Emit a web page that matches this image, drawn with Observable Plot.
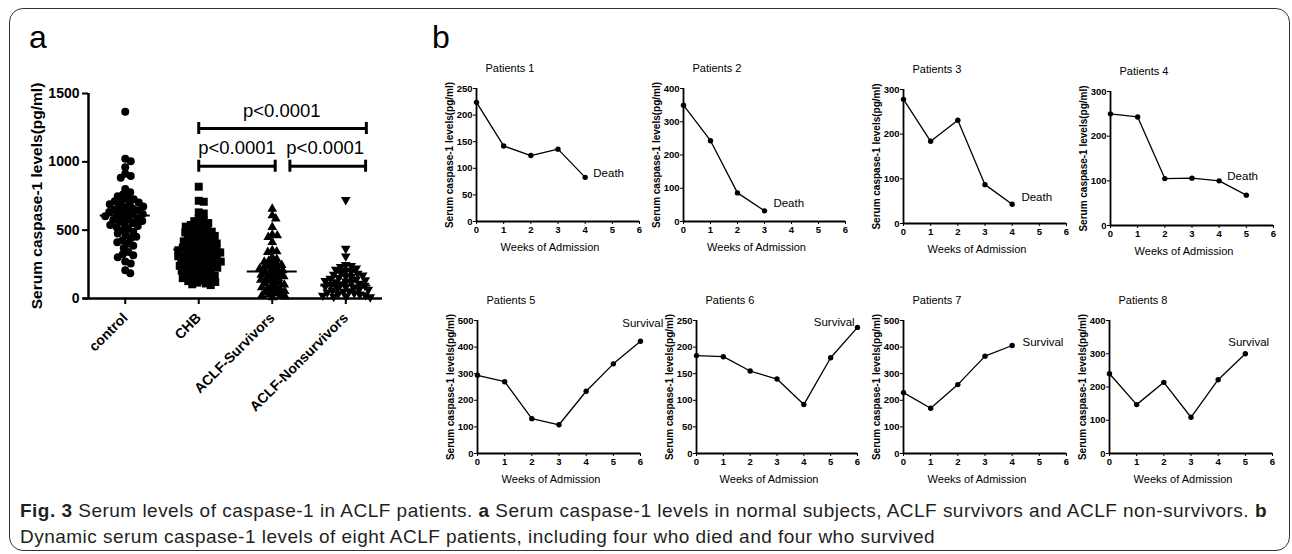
<!DOCTYPE html>
<html><head><meta charset="utf-8">
<script src="https://cdn.jsdelivr.net/npm/d3@7"></script>
<script src="https://cdn.jsdelivr.net/npm/@observablehq/plot@0.6"></script>
<style>
html,body{margin:0;padding:0;background:#fff;}
#root{position:relative;width:1292px;height:554px;overflow:hidden;font-family:"Liberation Sans",Arial,sans-serif;background:#fff;}
.frame{position:absolute;left:9px;top:8px;width:1281px;height:543px;border:1.5px solid #333;border-radius:14px;box-sizing:border-box;}
.plab{position:absolute;font-size:32px;line-height:32px;color:#000;font-family:"Liberation Sans",Arial,sans-serif;}
.cap{position:absolute;left:20px;top:498px;font-size:19px;line-height:26px;letter-spacing:0.48px;color:#231f20;white-space:nowrap;font-family:"Liberation Sans",Arial,sans-serif;}
.pl{position:absolute;}
#pa g[aria-label$="-axis tick"]{stroke-width:2px;}
</style></head><body><div id="root">
<div class="frame"></div>
<div class="plab" style="left:29px;top:21px;">a</div>
<div class="plab" style="left:432px;top:21px;">b</div>
<div class="cap"><b>Fig. 3</b> Serum levels of caspase-1 in ACLF patients. <b>a</b> Serum caspase-1 levels in normal subjects, ACLF survivors and ACLF non-survivors. <b>b</b><br>Dynamic serum caspase-1 levels of eight ACLF patients, including four who died and four who survived</div>
</div>
<script>
// ---------- Panel a data ----------
const groups = ["control", "CHB", "ACLF-Survivors", "ACLF-Nonsurvivors"];
const control = [1366, 1022, 1005, 961, 912, 896, 884, 802, 778, 762, 748, 736, 727, 718, 711, 703, 696, 689, 681, 674, 667, 659, 652, 646, 639, 633, 626, 619, 613, 607, 601, 595, 588, 581, 574, 567, 561, 553, 546, 538, 531, 522, 511, 499, 489, 476, 463, 452, 441, 426, 412, 401, 386, 369, 341, 323, 317, 301, 271, 256, 206, 184];
const chb = [818, 715, 708, 630, 622, 585, 571, 566, 552, 547, 538, 531, 526, 515, 509, 502, 498, 489, 483, 476, 470, 466, 458, 451, 447, 440, 436, 428, 423, 418, 411, 407, 402, 396, 391, 386, 381, 377, 372, 366, 362, 357, 353, 349, 344, 340, 336, 331, 327, 322, 318, 314, 309, 305, 301, 296, 292, 287, 283, 279, 274, 270, 266, 261, 257, 252, 248, 243, 239, 234, 229, 225, 219, 214, 209, 203, 198, 192, 187, 181, 176, 170, 165, 159, 154, 149, 143, 138, 132, 127, 121, 116, 110, 104, 98];
const survivors = [656, 607, 584, 522, 467, 461, 449, 412, 352, 344, 339, 301, 288, 276, 268, 259, 251, 244, 238, 231, 225, 219, 212, 206, 199, 193, 186, 180, 173, 167, 161, 154, 148, 141, 135, 128, 121, 115, 108, 101, 95, 88, 81, 74, 67, 60, 53, 46, 39, 32, 26, 20, 14, 8];
const nonsurvivors = [722, 365, 309, 246, 239, 232, 221, 212, 204, 197, 189, 183, 176, 170, 164, 158, 152, 146, 141, 135, 130, 125, 120, 115, 110, 105, 100, 95, 90, 85, 80, 75, 70, 65, 60, 55, 50, 45, 40, 35, 30, 26, 22, 18, 14, 10];
const groupMeans = [607, 358, 198, 95];
const yTicksA = [0, 500, 1000, 1500];
const pText = "p<0.0001";
const bracketBars = [{x1: 1, x2: 3.28, y: 1244}, {x1: 1, x2: 2.04, y: 968}, {x1: 2.24, x2: 3.27, y: 968}];
const pLabelsAt = [{x: 2.13, y: 1372}, {x: 1.52, y: 1101}, {x: 2.72, y: 1101}];

// ---------- Panel b data ----------
const weeks = [0, 1, 2, 3, 4, 5, 6];
const patientNames = ["Patients 1", "Patients 2", "Patients 3", "Patients 4", "Patients 5", "Patients 6", "Patients 7", "Patients 8"];
const patient1 = [224, 142, 124, 136, 83];
const patient2 = [350, 243, 86, 32];
const patient3 = [278, 184, 231, 87, 43];
const patient4 = [250, 243, 105, 106, 100, 68];
const patient5 = [294, 270, 131, 108, 234, 337, 422];
const patient6 = [184, 182, 155, 140, 92, 180, 237];
const patient7 = [229, 170, 259, 366, 406];
const patient8 = [240, 147, 214, 109, 222, 300];
const patientTicks = [[0, 50, 100, 150, 200, 250], [0, 100, 200, 300, 400], [0, 100, 200, 300], [0, 100, 200, 300], [0, 100, 200, 300, 400, 500], [0, 50, 100, 150, 200, 250], [0, 100, 200, 300, 400, 500], [0, 100, 200, 300, 400]];
const outcomes = ["Death", "Death", "Death", "Death", "Survival", "Survival", "Survival", "Survival"];
const outcomeWeek = [4.3, 3.33, 4.34, 4.3, 5.33, 4.37, 4.38, 4.37];
const outcomeLevel = [90, 54, 58, 111, 489, 246, 417, 333];
const yLabelText = "Serum caspase-1 levels(pg/ml)";
const xLabelText = "Weeks of Admission";

const root = document.getElementById("root");
function place(svg, left, top, id) {
  const d = document.createElement("div");
  d.className = "pl"; d.style.left = left + "px"; d.style.top = top + "px";
  if (id) d.id = id;
  d.appendChild(svg); root.appendChild(d);
}

// ---------- Panel a ----------
const WA = 420, HA = 420, mLA = 88, mRA = 38, mTA = 93, mBA = 122;
const pxPerX = (WA - mLA - mRA) / 4;
const pxPerY = (HA - mTA - mBA) / 1500;
function swarm(values, d) {
  const order = values.map((v, i) => i).sort((a, b) => values[b] - values[a]);
  const placed = [];
  const off = new Array(values.length).fill(0);
  for (const i of order) {
    const py = values[i] * pxPerY;
    for (let k = 0; k < 600; k++) {
      const cand = (k % 2 === 1 ? 1 : -1) * Math.ceil(k / 2) * 0.5;
      let ok = true;
      for (const p of placed) {
        const dy = py - p.py;
        if (Math.abs(dy) >= d) continue;
        const dx = cand - p.x;
        if (dx * dx + dy * dy < d * d) { ok = false; break; }
      }
      if (ok) { off[i] = cand; placed.push({x: cand, py}); break; }
    }
  }
  return off;
}
const collide = [5.7, 5.0, 4.6, 5.3];
const series = [control, chb, survivors, nonsurvivors];
const rowsA = series.map((vals, gi) => {
  const offs = swarm(vals, collide[gi]);
  return vals.map((v, j) => ({gi, value: v, x: gi + offs[j] / pxPerX}));
});
const triangleDown = {
  draw(context, size) {
    const y = Math.sqrt(size / (Math.sqrt(3) * 3));
    context.moveTo(0, y * 2);
    context.lineTo(-Math.sqrt(3) * y, -y);
    context.lineTo(Math.sqrt(3) * y, -y);
    context.closePath();
  }
};
const symbols = ["circle", "square", "triangle", triangleDown];
const symR = [4, 4.5, 3.6, 3.6];
const capHalf = 44;

const plotA = Plot.plot({
  width: WA, height: HA, marginLeft: mLA, marginRight: mRA, marginTop: mTA, marginBottom: mBA,
  style: "font-family: 'Liberation Sans', Arial, sans-serif; font-size: 14px; font-weight: bold; color: #000; background: transparent; overflow: visible;",
  x: {domain: [-0.5, 3.5], ticks: [0, 1, 2, 3], tickFormat: i => groups[i], tickRotate: -45, tickSize: 6, tickPadding: 11, label: null},
  y: {domain: [0, 1500], ticks: yTicksA, tickFormat: d => String(d), tickSize: 6, tickPadding: 3, label: null},
  marks: [
    ...rowsA.map((rows, gi) => Plot.dot(rows, {x: "x", y: "value", symbol: symbols[gi], r: symR[gi], fill: "#000", stroke: "none"})),
    Plot.ruleY(groupMeans.map((m, i) => ({i, m})), {y: "m", x1: d => d.i - 0.34, x2: d => d.i + 0.34, stroke: "#000", strokeWidth: 2}),
    Plot.ruleX([-0.5], {y1: 0, y2: 1500, stroke: "#000", strokeWidth: 2.5}),
    Plot.ruleY([0], {x1: -0.57, x2: 3.5, stroke: "#000", strokeWidth: 2.5}),
    Plot.ruleY(bracketBars, {y: "y", x1: "x1", x2: "x2", stroke: "#000", strokeWidth: 3}),
    Plot.ruleX(bracketBars.flatMap(b => [{x: b.x1, y: b.y}, {x: b.x2, y: b.y}]), {x: "x", y1: d => d.y - capHalf, y2: d => d.y + capHalf, stroke: "#000", strokeWidth: 3}),
    Plot.text(pLabelsAt, {x: "x", y: "y", text: () => pText, fontSize: 18.5, fontWeight: "normal", fill: "#000"}),
    Plot.text([yLabelText], {text: d => d, frameAnchor: "left", textAnchor: "middle", lineAnchor: "middle", dx: -51, rotate: -90, fontSize: 15.5, fontWeight: "bold", fill: "#000"})
  ]
});
place(plotA, 0, 0, "pa");

// ---------- Panel b ----------
const patients = [patient1, patient2, patient3, patient4, patient5, patient6, patient7, patient8];
const layout = [
  {x: 476, y: 88, w: 163, h: 133}, {x: 683, y: 88, w: 162, h: 133}, {x: 903, y: 89, w: 163, h: 134}, {x: 1110, y: 91, w: 163, h: 134},
  {x: 477, y: 320, w: 163, h: 133}, {x: 696, y: 320, w: 161, h: 133}, {x: 903, y: 320, w: 163, h: 133}, {x: 1109, y: 320, w: 163, h: 133}
];
const fontB = "'Liberation Sans Narrow', 'Arial Narrow', 'Liberation Sans', Arial, sans-serif";
patients.forEach((vals, p) => {
  const L = layout[p];
  const mL = 50, mT = 32, mR = 14, mB = 38;
  const ticks = patientTicks[p];
  const data = vals.map((v, i) => ({w: weeks[i], v}));
  const svg = Plot.plot({
    width: mL + L.w + mR, height: mT + L.h + mB,
    marginLeft: mL, marginTop: mT, marginRight: mR, marginBottom: mB,
    style: `font-family: ${fontB}; font-size: 9.5px; font-weight: bold; color: #000; background: transparent; overflow: visible;`,
    x: {domain: [0, 6], ticks: weeks, tickFormat: d => String(d), tickSize: 3, tickPadding: 2, label: null},
    y: {domain: [0, ticks[ticks.length - 1]], ticks: ticks, tickFormat: d => String(d), tickSize: 3, tickPadding: 1, label: null},
    marks: [
      Plot.ruleX([0], {stroke: "#000", strokeWidth: 1.8}),
      Plot.ruleY([0], {stroke: "#000", strokeWidth: 1.8}),
      Plot.line(data, {x: "w", y: "v", stroke: "#000", strokeWidth: 1.3}),
      Plot.dot(data, {x: "w", y: "v", r: 2.7, fill: "#000"}),
      Plot.text([patientNames[p]], {text: d => d, frameAnchor: "top-left", textAnchor: "start", lineAnchor: "middle", dx: 9, dy: -20, fontSize: 11, fontWeight: "normal", fill: "#000"}),
      Plot.text([yLabelText], {text: d => d, frameAnchor: "left", textAnchor: "middle", lineAnchor: "middle", dx: -27, rotate: -90, fontSize: 10, fontWeight: "bold", fill: "#000"}),
      Plot.text([xLabelText], {text: d => d, frameAnchor: "bottom", textAnchor: "middle", lineAnchor: "middle", dx: -8, dy: 26, fontSize: 11, fontWeight: "normal", fill: "#000"}),
      Plot.text([outcomes[p]], {x: () => outcomeWeek[p], y: () => outcomeLevel[p], text: d => d, textAnchor: "start", lineAnchor: "middle", fontSize: 11.5, fontWeight: "normal", fill: "#000"})
    ]
  });
  place(svg, L.x - mL, L.y - mT);
});
</script>
</body></html>
